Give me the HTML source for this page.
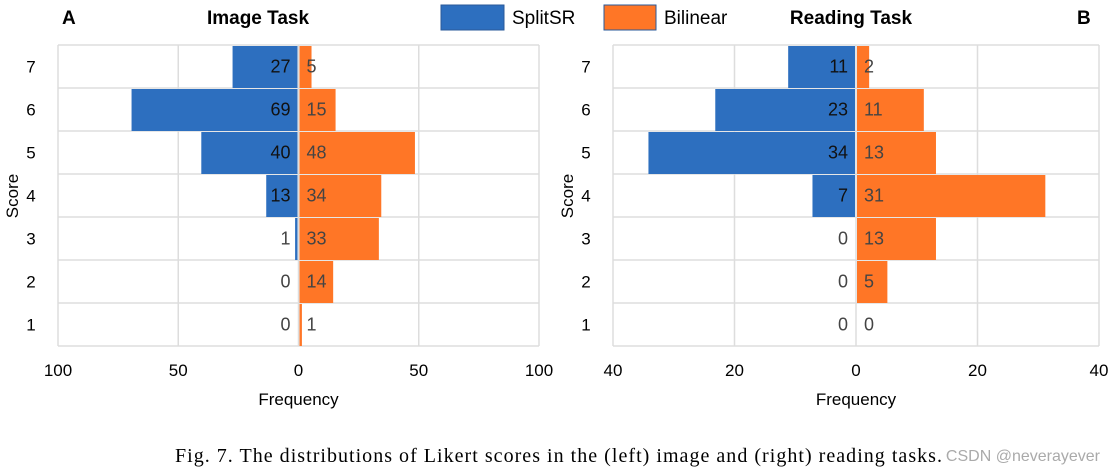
<!DOCTYPE html>
<html><head><meta charset="utf-8">
<style>
body{margin:0;background:#fff;width:1114px;height:472px;overflow:hidden}
svg{display:block;font-family:"Liberation Sans",Arial,sans-serif}
</style></head><body>
<svg id="chart" width="1114" height="472">
<g id="g"></g>
<text x="62" y="24" font-size="19" font-weight="bold">A</text>
<text x="258" y="24" font-size="19" font-weight="bold" text-anchor="middle">Image Task</text>
<text x="851" y="24" font-size="19" font-weight="bold" text-anchor="middle">Reading Task</text>
<text x="1077" y="24" font-size="19" font-weight="bold">B</text>
<g>
<rect x="441" y="5" width="63" height="25" fill="#2d6fbf" stroke="#2a5a9a"/>
<text x="512" y="24" font-size="19">SplitSR</text>
<rect x="604" y="5" width="52" height="25" fill="#ff7626" stroke="#2a5a9a"/>
<text x="664" y="24" font-size="19">Bilinear</text>
</g>
<text x="175" y="462" font-size="20" textLength="767" lengthAdjust="spacing" font-family="'Liberation Serif',serif">Fig. 7.  The distributions of Likert scores in the (left) image and (right) reading tasks.</text>
<text x="1100" y="461" font-size="16" text-anchor="end" fill="#aaa">CSDN @neverayever</text>
</svg>
<script>
const scores=[7,6,5,4,3,2,1];
const imgSplit=[27,69,40,13,1,0,0];
const imgBilin=[5,15,48,34,33,14,1];
const readSplit=[11,23,34,7,0,0,0];
const readBilin=[2,11,13,31,13,5,0];
const imgTicks=[100,50,0,50,100];
const readTicks=[40,20,0,20,40];
const NS="http://www.w3.org/2000/svg";
const g=document.getElementById('g');
function mk(t,a,p){const e=document.createElementNS(NS,t);for(const k in a)e.setAttribute(k,a[k]);(p||g).appendChild(e);return e;}
function panel(x0,x1,max,split,bilin,ticks,pfx){
  const top=45,bot=346,cx=(x0+x1)/2,rh=(bot-top)/scores.length;
  const sx=v=>v*(x1-x0)/2/max;
  const grid=mk('g',{});
  
  
  ticks.forEach((t,i)=>{const x=x0+i*(x1-x0)/(ticks.length-1);
    mk('line',{x1:x,x2:x,y1:top,y2:bot,stroke:'#ddd','stroke-width':1.5},grid);
    const tl=mk('text',{x:x,y:376,'font-size':17,'text-anchor':'middle'});tl.textContent=t;
    
    });
  for(let i=0;i<=scores.length;i++)mk('line',{x1:x0,x2:x1,y1:top+i*rh,y2:top+i*rh,stroke:'#ddd','stroke-width':1.5},grid);
  scores.forEach((s,i)=>{const y=top+i*rh;
    const b=mk('rect',{x:cx-1-sx(split[i]),y:y+1,width:sx(split[i]),height:rh-1,fill:'#2d6fbf'});
    
    
    const o=mk('rect',{x:cx+1,y:y+1,width:sx(bilin[i]),height:rh-1,fill:'#ff7626'});
    
    
    const t1=mk('text',{x:cx-8,y:y+rh/2+6,'font-size':18,'text-anchor':'end',fill:split[i]>3?'#111':'#444'});t1.textContent=split[i];
    
    
    const t2=mk('text',{x:cx+8,y:y+rh/2+6,'font-size':18,fill:'#444'});t2.textContent=bilin[i];
    
    
    const sl=mk('text',{x:x0-27,y:y+rh/2+6,'font-size':17,'text-anchor':'middle'});sl.textContent=s;
    
    });
  const xt=mk('text',{x:cx,y:405,'font-size':17,'text-anchor':'middle'});xt.textContent='Frequency';
  
  
  const yt=mk('text',{x:0,y:0,'font-size':17,'text-anchor':'middle',transform:`translate(${x0-40},196) rotate(-90)`});yt.textContent='Score';
  
  
}
panel(58,539,100,imgSplit,imgBilin,imgTicks,'image');
panel(613,1099,40,readSplit,readBilin,readTicks,'reading');
</script>
</body></html>
